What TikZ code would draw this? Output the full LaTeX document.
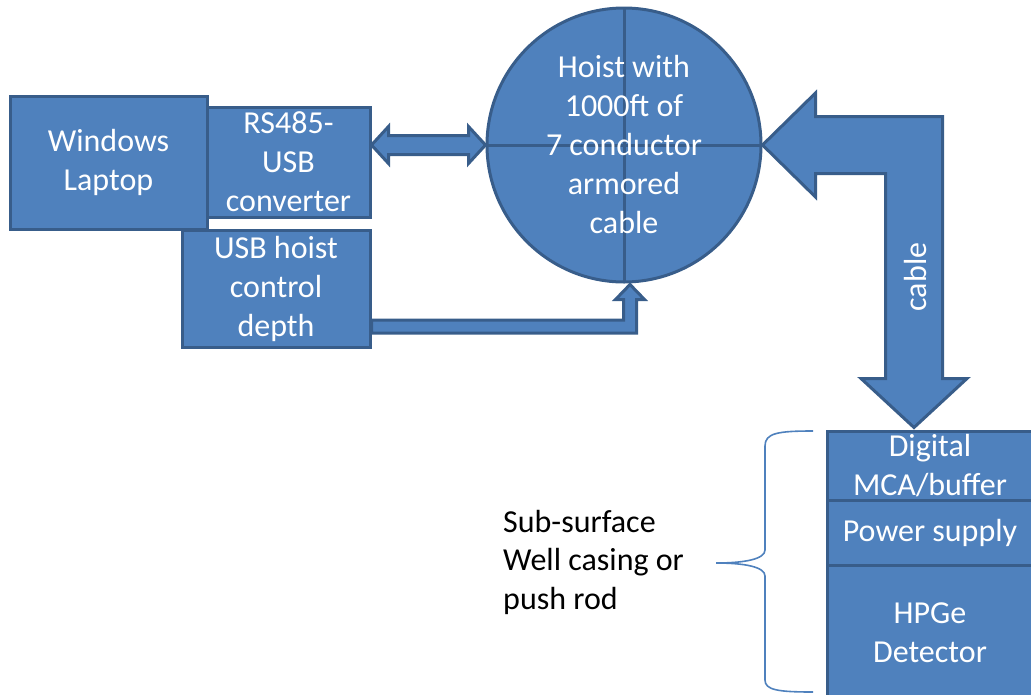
\documentclass[tikz,border=0pt]{standalone}
\usepackage{fontspec}
\setmainfont{Carlito}
\usetikzlibrary{calc}
\definecolor{boxblue}{RGB}{79,129,189}
\definecolor{edgeblue}{RGB}{56,93,138}

\begin{document}
\begin{tikzpicture}[x=1pt,y=-1pt,
    blockbox/.style={draw=edgeblue,fill=boxblue,line width=3pt,text=white,align=center,inner sep=0pt,font=\fontsize{32}{39}\selectfont},
    fatarrow/.style={draw=edgeblue,fill=boxblue,line width=3pt,line join=miter},
    bracestroke/.style={draw=boxblue,line width=1.6pt}]
    \useasboundingbox (0,0) rectangle (1031,694);
    %
    \node[blockbox,minimum width=197pt,minimum height=133pt] (laptop) at (108.5,162.5) {Windows\\Laptop};
    \node[blockbox,minimum width=163pt,minimum height=110pt] (conv) at (288.5,162) {RS485-\\USB\\converter};
    \node[blockbox,minimum width=188pt,minimum height=117pt] (usbctl) at (276,288.5) {USB hoist\\control\\depth};
    %
    \node[blockbox,circle,minimum size=274pt,path picture={
        \draw[edgeblue,line width=3pt] (path picture bounding box.north) -- (path picture bounding box.south)
          (path picture bounding box.west) -- (path picture bounding box.east);}] (hoist) at (624,145)
      {Hoist with\\1000ft of\\7 conductor\\armored\\cable};
    %
    \node[blockbox,minimum width=206pt,minimum height=69pt] (mca) at (930,465.5) {Digital\\MCA/buffer};
    \node[blockbox,minimum width=206pt,minimum height=65pt] (psu) at (930,532.5) {Power supply};
    \node[blockbox,minimum width=206pt,minimum height=135pt] (hpge) at (930,632.5) {HPGe\\Detector};
    %
    \draw[fatarrow] (conv.east |- hoist.west) -- ++(17,-18.5) -- ++(0,9) -- ($(hoist.west)+(-17,-9.5)$) -- ++(0,-9)
      -- (hoist.west) -- ++(-17,18.5) -- ++(0,-9) -- ($(conv.east |- hoist.west)+(17,9.5)$) -- ++(0,9) -- cycle;
    %
    \coordinate (ctlout) at ($(usbctl.south east)+(0,-22)$);
    \coordinate (ctltip) at ($(hoist.south)+(6,1)$);
    \draw[fatarrow] ($(ctlout)+(0,-6.5)$) -| ($(ctltip)+(-6.5,15)$) -- ++(-8,0) -- (ctltip) -- ($(ctltip)+(14.5,15)$)
      -- ++(-8,0) |- ($(ctlout)+(0,6.5)$) -- cycle;
    %
    \coordinate (cabletip) at ($(mca.north west)+(88.5,-2)$);
    \draw[fatarrow] (hoist.east) -- ++(53,-52) -- ++(0,23.5) -| ($(cabletip)+(28.5,-49)$) -- ++(24.5,0) -- (cabletip)
      -- ++(-53,-49) -- ++(24.5,0) |- ($(hoist.east)+(53,28.5)$) -- ++(0,23.5) -- cycle;
    \node[text=white,rotate=90,inner sep=0pt,font=\fontsize{32}{39}\selectfont] (cablelbl) at (915.5,277) {cable};
    %
    \draw[bracestroke] (813,431) .. controls (778,431) and (765,433) .. (765,446) -- (765,550)
      .. controls (765,559) and (745,563) .. (716,563) .. controls (745,563) and (765,567) .. (765,576)
      -- (765,680) .. controls (765,690) and (778,692) .. (813,692);
    \node[anchor=west,align=left,inner sep=0pt,font=\fontsize{32}{38.5}\selectfont] (subsurf) at (503,562)
      {Sub-surface\\Well casing or\\push rod};
    %
\end{tikzpicture}
\end{document}
